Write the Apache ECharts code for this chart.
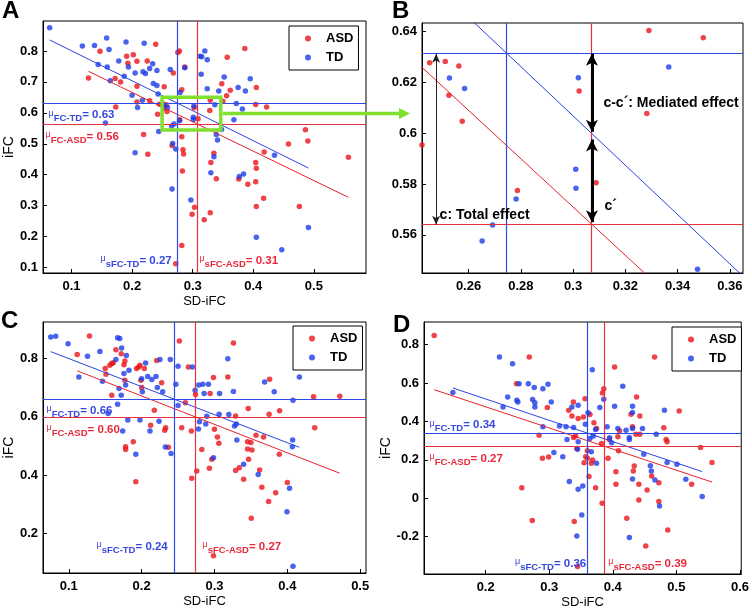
<!DOCTYPE html>
<html><head><meta charset="utf-8">
<script src="https://cdn.jsdelivr.net/npm/echarts@6/dist/echarts.min.js"></script>
<style>html,body{margin:0;padding:0;background:#fff}#c{width:752px;height:611px}</style>
</head><body><div id="c"></div>
<script>
// ---------- DATA ----------
const groups = ['ASD', 'TD'];

// Panel A (and its zoomed view B): [SD-iFC, iFC]
const A_TD = [[0.064,0.875],[0.118,0.816],[0.138,0.818],[0.158,0.842],[0.162,0.805],[0.190,0.829],[0.220,0.825],[0.144,0.756],[0.159,0.748],[0.178,0.768],[0.194,0.748],[0.205,0.729],[0.218,0.733],[0.222,0.727],[0.229,0.743],[0.234,0.759],[0.241,0.737],[0.263,0.740],[0.187,0.718],[0.164,0.704],[0.235,0.695],[0.241,0.688],[0.243,0.661],[0.200,0.657],[0.217,0.641],[0.209,0.617],[0.156,0.567],[0.244,0.540],[0.205,0.471],
  [0.2527,0.6217],[0.2585,0.6175],[0.2652,0.5576],[0.2692,0.5639],[0.2782,0.5741],[0.301,0.5858],[0.3011,0.5783],[0.302,0.6218],[0.3366,0.626],[0.3476,0.5465],
  [0.267,0.501],[0.266,0.354],[0.272,0.483],[0.279,0.666],[0.287,0.746],[0.297,0.318],[0.312,0.783],[0.320,0.800],[0.315,0.781],[0.324,0.772],[0.314,0.725],[0.324,0.678],[0.330,0.406],[0.335,0.458],[0.341,0.512],[0.339,0.530],[0.343,0.671],[0.352,0.716],[0.368,0.578],[0.372,0.630],[0.375,0.682],[0.382,0.612],[0.377,0.394],[0.384,0.402],[0.387,0.671],[0.395,0.710],[0.405,0.198],[0.435,0.463],[0.447,0.157],[0.491,0.229]];
const A_ASD = [[0.239,0.822],[0.147,0.799],[0.278,0.800],[0.2755,0.795],[0.386,0.808],[0.191,0.783],[0.202,0.788],[0.357,0.780],[0.193,0.760],[0.208,0.767],[0.225,0.768],[0.287,0.748],[0.268,0.729],[0.128,0.713],[0.172,0.711],[0.181,0.700],[0.208,0.686],[0.253,0.684],[0.348,0.694],[0.362,0.673],[0.356,0.655],[0.282,0.675],[0.405,0.682],[0.229,0.639],[0.208,0.635],[0.173,0.619],[0.404,0.627],[0.422,0.619],
  [0.2422,0.5953],[0.2451,0.6277],[0.2511,0.6282],[0.2563,0.6264],[0.2525,0.6149],[0.2576,0.6047],[0.2787,0.5774],[0.3023,0.6166],[0.3088,0.5805],[0.3282,0.6077],[0.329,0.6404],[0.3498,0.6375],
  [0.219,0.530],[0.282,0.523],[0.226,0.466],[0.266,0.494],[0.284,0.481],[0.285,0.467],[0.283,0.412],[0.335,0.469],[0.330,0.439],[0.339,0.387],[0.376,0.386],[0.391,0.369],[0.404,0.439],[0.405,0.421],[0.404,0.377],[0.418,0.473],[0.458,0.499],[0.486,0.545],[0.490,0.509],[0.557,0.456],[0.405,0.297],[0.417,0.324],[0.476,0.297],[0.303,0.295],[0.299,0.272],[0.319,0.254],[0.329,0.277],[0.282,0.171],[0.272,0.112]];

// Panel C
const C_TD = [[0.0752,0.874],[0.0821,0.877],[0.099,0.851],[0.1138,0.737],[0.1257,0.808],[0.1427,0.825],[0.1463,0.722],[0.154,0.611],[0.167,0.643],[0.1647,0.797],[0.167,0.872],[0.170,0.869],[0.169,0.697],[0.172,0.674],[0.174,0.551],[0.1757,0.749],[0.178,0.709],[0.1725,0.837],[0.179,0.811],[0.181,0.589],[0.1826,0.760],[0.192,0.471],[0.1977,0.589],[0.200,0.731],[0.201,0.686],[0.2055,0.785],[0.2083,0.739],[0.2115,0.551],[0.214,0.728],[0.2197,0.739],[0.2216,0.701],[0.2239,0.585],[0.2252,0.797],[0.2289,0.686],[0.2326,0.496],[0.2394,0.797],[0.2404,0.474],[0.247,0.712],[0.250,0.774],[0.250,0.639],[0.2697,0.771],[0.2734,0.691],[0.278,0.558],[0.2794,0.583],[0.2784,0.709],[0.284,0.712],[0.2858,0.680],[0.288,0.575],[0.2895,0.602],[0.2917,0.712],[0.2986,0.459],[0.307,0.680],[0.3064,0.609],[0.3183,0.800],[0.3197,0.608],[0.326,0.687],[0.3275,0.568],[0.330,0.575],[0.3307,0.520],[0.340,0.437],[0.360,0.402],[0.3688,0.720],[0.382,0.686],[0.3995,0.274],[0.403,0.354],[0.4078,0.657],[0.4073,0.520],[0.4069,0.497],[0.4078,0.086],[0.4165,0.737]];
const C_ASD = [[0.1115,0.814],[0.1284,0.878],[0.150,0.766],[0.151,0.746],[0.1564,0.777],[0.159,0.783],[0.161,0.786],[0.159,0.674],[0.1647,0.831],[0.172,0.817],[0.1757,0.779],[0.177,0.792],[0.177,0.726],[0.178,0.497],[0.178,0.488],[0.1885,0.514],[0.192,0.377],[0.193,0.766],[0.196,0.771],[0.1977,0.777],[0.199,0.726],[0.200,0.701],[0.2037,0.766],[0.2124,0.571],[0.2174,0.623],[0.2206,0.794],[0.2275,0.717],[0.2317,0.554],[0.233,0.562],[0.2367,0.495],[0.2518,0.861],[0.255,0.562],[0.260,0.648],[0.2642,0.771],[0.2683,0.551],[0.2688,0.389],[0.274,0.677],[0.2757,0.414],[0.2826,0.488],[0.293,0.423],[0.294,0.680],[0.2963,0.454],[0.2986,0.735],[0.300,0.557],[0.304,0.531],[0.306,0.509],[0.2986,0.122],[0.3183,0.737],[0.326,0.854],[0.329,0.603],[0.329,0.415],[0.334,0.425],[0.340,0.385],[0.3463,0.629],[0.3454,0.514],[0.3454,0.489],[0.3468,0.454],[0.350,0.512],[0.3514,0.486],[0.3505,0.251],[0.357,0.537],[0.362,0.417],[0.365,0.358],[0.3674,0.531],[0.375,0.609],[0.3757,0.729],[0.3743,0.309],[0.384,0.339],[0.3894,0.621],[0.389,0.471],[0.400,0.374],[0.436,0.669],[0.4376,0.562],[0.472,0.671]];

// Panel D
const D_TD = [[0.1484,0.551],[0.2217,0.736],[0.2423,0.701],[0.2273,0.476],[0.2346,0.528],[0.249,0.511],[0.2506,0.502],[0.2526,0.597],[0.267,0.597],[0.2764,0.577],[0.2738,0.514],[0.2774,0.497],[0.2774,0.476],[0.290,0.571],[0.298,0.594],[0.3032,0.502],[0.290,0.372],[0.3073,0.239],[0.3213,0.216],[0.3161,0.376],[0.3264,0.372],[0.328,0.306],[0.3316,0.087],[0.3357,0.476],[0.3383,0.369],[0.3455,0.485],[0.3455,0.294],[0.3445,0.255],[0.3455,0.047],[0.3434,-0.196],[0.3512,-0.087],[0.3527,0.064],[0.3569,0.386],[0.361,0.445],[0.364,0.312],[0.3677,0.670],[0.3662,0.242],[0.3692,0.324],[0.3744,0.182],[0.3729,0.358],[0.3796,0.473],[0.3858,0.516],[0.391,0.372],[0.395,0.315],[0.3981,0.289],[0.4028,0.480],[0.408,0.364],[0.4157,0.584],[0.4208,0.355],[0.426,0.317],[0.426,0.306],[0.426,-0.204],[0.431,0.447],[0.431,0.480],[0.431,0.100],[0.431,0.364],[0.4467,0.364],[0.4487,0.229],[0.459,0.170],[0.4606,0.142],[0.4663,0.095],[0.4683,0.334],[0.4735,-0.040],[0.4812,0.459],[0.4854,0.187],[0.5008,0.177],[0.5148,0.099],[0.5406,0.009]];
const D_ASD = [[0.119,0.848],[0.2485,0.597],[0.2686,0.736],[0.2568,0.055],[0.2733,-0.116],[0.297,0.473],[0.284,0.329],[0.2893,0.208],[0.299,0.215],[0.3306,0.459],[0.338,0.502],[0.3357,0.428],[0.3383,0.317],[0.3393,-0.121],[0.3414,0.325],[0.3434,0.260],[0.3445,-0.355],[0.3455,0.416],[0.3538,0.424],[0.3548,0.185],[0.3564,0.519],[0.3574,0.216],[0.360,0.208],[0.360,0.248],[0.3625,0.113],[0.364,0.436],[0.3662,0.182],[0.3682,0.199],[0.3703,0.393],[0.3729,0.055],[0.3744,0.364],[0.3821,0.286],[0.3837,0.549],[0.3858,0.571],[0.3832,-0.026],[0.3925,0.208],[0.3945,0.306],[0.4028,0.684],[0.4049,0.139],[0.4049,0.073],[0.408,0.320],[0.409,0.248],[0.4106,0.352],[0.4219,-0.104],[0.4286,0.438],[0.431,0.372],[0.4322,0.142],[0.4337,0.168],[0.4374,0.528],[0.4363,0.334],[0.441,-0.009],[0.441,0.073],[0.4425,0.429],[0.4425,0.334],[0.4518,-0.248],[0.4539,0.043],[0.4611,0.116],[0.4657,0.736],[0.4724,-0.017],[0.4724,0.081],[0.4802,0.367],[0.4838,0.306],[0.4854,0.294],[0.4864,-0.165],[0.5044,0.455],[0.524,0.073],[0.538,0.265],[0.556,0.187]];

// group means [mean SD-iFC, mean iFC] and regression slopes
const A_meanTD = [0.2745, 0.6315], A_meanASD = [0.307, 0.5643];
const A_slopeTD = -0.97, A_slopeASD = -0.95;
const C_meanTD = [0.2448, 0.6606], C_meanASD = [0.2734, 0.600];
const C_slopeTD = -0.964, C_slopeASD = -0.977;
const D_meanTD = [0.3605, 0.339], D_meanASD = [0.3858, 0.272];
const D_slopeTD = -1.11, D_slopeASD = -1.10;

// tick labels
const A_xTicks = [0.1, 0.2, 0.3, 0.4, 0.5];
const A_yTicks = [0.1, 0.2, 0.3, 0.4, 0.5, 0.6, 0.7, 0.8];
const B_xTicks = [0.26, 0.28, 0.3, 0.32, 0.34, 0.36];
const B_yTicks = [0.56, 0.58, 0.6, 0.62, 0.64];
const C_xTicks = [0.1, 0.2, 0.3, 0.4, 0.5];
const C_yTicks = [0.2, 0.4, 0.6, 0.8];
const D_xTicks = [0.2, 0.3, 0.4, 0.5, 0.6];
const D_yTicks = [-0.2, 0, 0.2, 0.4, 0.6, 0.8];

// B annotation arrows (iFC values at x)
const B_totalArrow = [[0.2476, 0.6312], [0.2476, 0.5640]];
const B_medArrow = [[0.3072, 0.6312], [0.3072, 0.6005]];
const B_directArrow = [[0.3072, 0.5975], [0.3072, 0.5650]];

// ---------- STYLE ----------
const FONT = 'Liberation Sans, Arial, Helvetica, sans-serif';
const RED = '#e8141c', BLUE = '#1c3ce8';
const RED_MEAN = '#e8303f', BLUE_MEAN = '#2f48ea';
const RED_FIT = '#e8202c', BLUE_FIT = '#2a44e4';
const RED_TXT = '#e8283a', BLUE_TXT = '#3548e0';

const chart = echarts.init(document.getElementById('c'), null, {renderer: 'canvas'});

const grids = [
  {left: 43, top: 21, width: 323, height: 252},
  {left: 422, top: 23, width: 321, height: 250},
  {left: 43, top: 322, width: 323, height: 251},
  {left: 424, top: 322, width: 320, height: 252}
].map(g => Object.assign(g, {show: true, borderColor: '#000', borderWidth: 1, backgroundColor: 'transparent'}));

function xAxis(gi, min, max, ticks, name) {
  return {
    type: 'value', gridIndex: gi, min, max,
    name: name || '', nameLocation: 'middle', nameGap: 22,
    nameTextStyle: {fontSize: 13, color: '#000', fontFamily: FONT},
    axisLine: {show: true, onZero: false, lineStyle: {color: '#000', width: 1}},
    axisTick: {show: true, inside: true, length: 4, customValues: ticks, lineStyle: {color: '#000'}},
    axisLabel: {show: true, customValues: ticks, margin: 7, color: '#000', fontSize: 13, fontWeight: 'bold', fontFamily: FONT},
    splitLine: {show: false}
  };
}
function yAxis(gi, min, max, ticks, name, gap) {
  return {
    type: 'value', gridIndex: gi, min, max,
    name: name || '', nameLocation: 'middle', nameGap: gap || 25, nameRotate: 90,
    nameTextStyle: {fontSize: 14, color: '#000', fontFamily: FONT},
    axisLine: {show: true, onZero: false, lineStyle: {color: '#000', width: 1}},
    axisTick: {show: true, inside: true, length: 4, customValues: ticks, lineStyle: {color: '#000'}},
    axisLabel: {show: true, customValues: ticks, margin: 5, color: '#000', fontSize: 13, fontWeight: 'bold', fontFamily: FONT},
    splitLine: {show: false}
  };
}

function scatter(name, data, gi, color) {
  return {type: 'scatter', name, data, xAxisIndex: gi, yAxisIndex: gi, symbolSize: 5.5,
    itemStyle: {color}, silent: true, z: 3, emphasis: {disabled: true}};
}

function muRich(color) {
  return {
    mu: {fontSize: 9, color, fontFamily: FONT, padding: [0, 0, 4, 0]},
    sub: {fontSize: 9.5, fontWeight: 'bold', color, fontFamily: FONT, padding: [7, 0, 0, 0]},
    val: {fontSize: 11.5, fontWeight: 'bold', color, fontFamily: FONT}
  };
}
function labelPoint(coord, sub, val, color, position, offset) {
  return {
    coord, symbol: 'circle', symbolSize: 1, itemStyle: {color: 'rgba(0,0,0,0)'},
    label: {show: true, position, distance: 0, offset, color,
      formatter: '{mu|μ}{sub|' + sub + '}{val|= ' + val + '}', rich: muRich(color)}
  };
}

// regression line series (through group mean, spanning data extent) + mean lines
function fitSeries(data, mean, slope, gi, fitColor, meanColor, labels) {
  const xs = data.map(d => d[0]);
  const x0 = Math.min.apply(null, xs), x1 = Math.max.apply(null, xs);
  const s = {
    type: 'line', xAxisIndex: gi, yAxisIndex: gi, silent: true, z: 4,
    data: [[x0, mean[1] + slope * (x0 - mean[0])], [x1, mean[1] + slope * (x1 - mean[0])]],
    symbol: 'none', showSymbol: false, clip: true,
    lineStyle: {color: fitColor, width: 1}, emphasis: {disabled: true},
    markLine: {silent: true, precision: 6, symbol: ['none', 'none'], label: {show: false},
      lineStyle: {color: meanColor, width: 1.2, type: 'solid', opacity: 1}, emphasis: {disabled: true},
      data: [{xAxis: mean[0]}, {yAxis: mean[1]}]}
  };
  if (labels) s.markPoint = {silent: true, precision: 6, data: labels, z: 6};
  return s;
}

const axA = {xmin: 0.053, xmax: 0.586, ymin: 0.082, ymax: 0.897};
const axB = {xmin: 0.2422, xmax: 0.365, ymin: 0.545, ymax: 0.6433};
const axC = {xmin: 0.0646, xmax: 0.508, ymin: 0.063, ymax: 0.926};
const axD = {xmin: 0.103, xmax: 0.602, ymin: -0.394, ymax: 0.918};

function meanLabels(ax, mTD, mASD, o) {
  return {
    td: [
      labelPoint([ax.xmin, mTD[1]], 'FC-TD', mTD[1].toFixed(2), BLUE_TXT, 'right', o.hTD),
      labelPoint([mTD[0], ax.ymin], 'sFC-TD', mTD[0].toFixed(2), BLUE_TXT, 'left', o.vTD)
    ],
    asd: [
      labelPoint([ax.xmin, mASD[1]], 'FC-ASD', mASD[1].toFixed(2), RED_TXT, 'right', o.hASD),
      labelPoint([mASD[0], ax.ymin], 'sFC-ASD', mASD[0].toFixed(2), RED_TXT, 'right', o.vASD)
    ]
  };
}
const labA = meanLabels(axA, A_meanTD, A_meanASD, {hTD: [5, 12], hASD: [2, 13], vTD: [-5, -12], vASD: [2, -12]});
const labC = meanLabels(axC, C_meanTD, C_meanASD, {hTD: [3, 11.5], hASD: [3, 13], vTD: [-6, -26], vASD: [7, -26]});
const labD = meanLabels(axD, D_meanTD, D_meanASD, {hTD: [5, -8], hASD: [5, 12.5], vTD: [-1, -10], vASD: [4, -10]});

function legend(left, top) {
  return {
    data: groups.map(g => ({name: g, icon: 'circle'})),
    left, top, orient: 'vertical', itemWidth: 6, itemHeight: 6, itemGap: 6,
    padding: [6, 5, 6, 16], borderColor: '#000', borderWidth: 1, backgroundColor: '#fff',
    selectedMode: false, z: 10,
    textStyle: {fontSize: 13, fontWeight: 'bold', color: '#000', fontFamily: FONT, padding: [0, 0, 0, 10]}
  };
}

function textB(coord, text, offset) {
  return {coord, symbol: 'circle', symbolSize: 1, itemStyle: {color: 'rgba(0,0,0,0)'},
    label: {show: true, position: 'right', distance: 0, offset, formatter: text,
      color: '#000', fontSize: 14, fontWeight: 'bold', fontFamily: FONT}};
}

const series = [
  // A
  scatter('ASD', A_ASD, 0, RED), scatter('TD', A_TD, 0, BLUE),
  fitSeries(A_ASD, A_meanASD, A_slopeASD, 0, RED_FIT, RED_MEAN, labA.asd),
  fitSeries(A_TD, A_meanTD, A_slopeTD, 0, BLUE_FIT, BLUE_MEAN, labA.td),
  {type: 'line', xAxisIndex: 0, yAxisIndex: 0, data: [], silent: true, z: 7,
    markArea: {silent: true, z: 7, itemStyle: {color: 'rgba(0,0,0,0)', borderColor: '#80e030', borderWidth: 3.5},
      data: [[{coord: [0.2495, 0.6506]}, {coord: [0.3464, 0.5442]}]]}},
  // B (zoom of A)
  scatter('ASD', A_ASD, 1, RED), scatter('TD', A_TD, 1, BLUE),
  fitSeries(A_ASD, A_meanASD, A_slopeASD, 1, RED_FIT, RED_MEAN, null),
  fitSeries(A_TD, A_meanTD, A_slopeTD, 1, BLUE_FIT, BLUE_MEAN, null),
  {type: 'line', xAxisIndex: 1, yAxisIndex: 1, data: [], silent: true, z: 8,
    markLine: {silent: true, precision: 6, symbol: ['arrow', 'arrow'], symbolSize: [6, 9], label: {show: false},
      lineStyle: {color: '#222', width: 1, type: 'solid'},
      data: [[{coord: B_totalArrow[0]}, {coord: B_totalArrow[1]}]]},
    markPoint: {silent: true, precision: 6, data: [
      textB([B_medArrow[0][0], 0.6119], 'c-c\u00b4: Mediated effect', [11, 0]),
      textB([B_directArrow[0][0], 0.5711], 'c\u00b4', [12, 0]),
      textB([B_totalArrow[0][0], 0.5676], 'c: Total effect', [3, 0])
    ]}},
  {type: 'line', xAxisIndex: 1, yAxisIndex: 1, data: [], silent: true, z: 8,
    markLine: {silent: true, precision: 6, symbol: ['arrow', 'arrow'], symbolSize: [9, 12], label: {show: false},
      lineStyle: {color: '#000', width: 3, type: 'solid'},
      data: [[{coord: B_medArrow[0]}, {coord: B_medArrow[1]}], [{coord: B_directArrow[0]}, {coord: B_directArrow[1]}]]}},
  // C
  scatter('ASD', C_ASD, 2, RED), scatter('TD', C_TD, 2, BLUE),
  fitSeries(C_ASD, C_meanASD, C_slopeASD, 2, RED_FIT, RED_MEAN, labC.asd),
  fitSeries(C_TD, C_meanTD, C_slopeTD, 2, BLUE_FIT, BLUE_MEAN, labC.td),
  // D
  scatter('ASD', D_ASD, 3, RED), scatter('TD', D_TD, 3, BLUE),
  fitSeries(D_ASD, D_meanASD, D_slopeASD, 3, RED_FIT, RED_MEAN, labD.asd),
  fitSeries(D_TD, D_meanTD, D_slopeTD, 3, BLUE_FIT, BLUE_MEAN, labD.td)
];

function letter(t, left, top) {
  return {type: 'text', left, top, z: 20, style: {text: t, font: 'bold 24px ' + FONT, fill: '#000'}};
}
const letters = [letter('A', 2, -1), letter('B', 392, -1), letter('C', 1, 309), letter('D', 393, 313)];

chart.setOption({
  animation: false,
  textStyle: {fontFamily: FONT},
  grid: grids,
  xAxis: [
    xAxis(0, axA.xmin, axA.xmax, A_xTicks, 'SD-iFC'),
    xAxis(1, axB.xmin, axB.xmax, B_xTicks, ''),
    xAxis(2, axC.xmin, axC.xmax, C_xTicks, 'SD-iFC'),
    xAxis(3, axD.xmin, axD.xmax, D_xTicks, 'SD-iFC')
  ],
  yAxis: [
    yAxis(0, axA.ymin, axA.ymax, A_yTicks, 'iFC', 24),
    yAxis(1, axB.ymin, axB.ymax, B_yTicks, '', 25),
    yAxis(2, axC.ymin, axC.ymax, C_yTicks, 'iFC', 26),
    yAxis(3, axD.ymin, axD.ymax, D_yTicks, 'iFC', 30)
  ],
  legend: [legend(289, 26), legend(293, 326), legend(672, 327)],
  series,
  graphic: letters
});

// green arrow linking box in A to panel B
const p0 = chart.convertToPixel({gridIndex: 0}, [0.3464, 0.598]);
const pB = chart.convertToPixel({gridIndex: 1}, [axB.xmin, 0.6]);
const ay = p0[1], ax0 = p0[0] + 2, ax1 = pB[0] - 12;
chart.setOption({
  graphic: letters.concat([
    {type: 'line', z: 20, shape: {x1: ax0, y1: ay, x2: ax1 - 9, y2: ay}, style: {stroke: '#80e030', lineWidth: 3.5}},
    {type: 'polygon', z: 20, shape: {points: [[ax1 - 11, ay - 5.5], [ax1, ay], [ax1 - 11, ay + 5.5]]}, style: {fill: '#80e030'}}
  ])
});
</script>
</body></html>
